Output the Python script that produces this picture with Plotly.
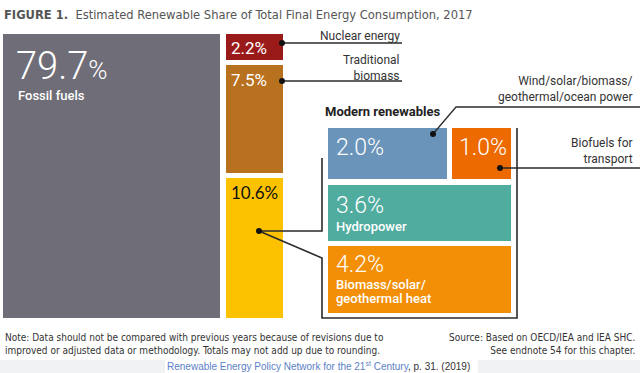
import plotly.graph_objects as go

# ---- data ----
categories = ["Fossil fuels", "Nuclear energy", "Traditional biomass", "Modern renewables",
              "Wind/solar/biomass/geothermal/ocean power", "Biofuels for transport",
              "Hydropower", "Biomass/solar/geothermal heat"]
shares = [79.7, 2.2, 7.5, 10.6, 2.0, 1.0, 3.6, 4.2]
colors = ["#6f6d77", "#9a1a1a", "#b8711f", "#fcc200", "#6a94b9", "#ec6a00", "#50ac9f", "#f28f07"]

# ---- layout geometry (pixel canvas) ----
bx0 = [3, 226, 226, 226, 328, 452, 328, 328]
bx1 = [220, 283, 283, 283, 447, 511, 511, 511]
by0 = [34, 34, 65, 178, 128, 128, 185, 246]
by1 = [318, 60, 173, 318, 179, 179, 241, 313]

fig = go.Figure()
fig.add_trace(go.Bar(
    x=[(a + b) / 2 for a, b in zip(bx0, bx1)],
    width=[b - a for a, b in zip(bx0, bx1)],
    base=by0,
    y=[b - a for a, b in zip(by0, by1)],
    marker=dict(color=colors, line=dict(width=0)),
    hovertext=categories, hoverinfo="text", showlegend=False,
))

LINE = "#2b2b2b"
def poly(xs, ys, w=1.3):
    fig.add_trace(go.Scatter(x=xs, y=ys, mode="lines", line=dict(color=LINE, width=w),
                             hoverinfo="skip", showlegend=False))

# leader lines
poly([282, 402], [43, 43])
poly([282, 402], [81, 81])
poly([433, 456, 640], [134, 107, 107])
poly([500, 640], [168, 168])
# callout frame
poly([322, 322, 259, 322, 322, 517, 517], [158, 231, 231, 258, 318, 318, 128], w=1.6)
# dots
fig.add_trace(go.Scatter(x=[282, 282, 433, 500, 259], y=[43, 81, 134, 168, 231], mode="markers",
                         marker=dict(color="#111", size=6), hoverinfo="skip", showlegend=False))

FONT = "Roboto"
NARROW = "DejaVu Sans Condensed, Roboto"
def pct(v):
    return f"{v:.1f}%"

ann = []
def txt(x, y, s, size, color="white", xanchor="left", family=FONT, weight=None, yanchor="middle"):
    f = dict(size=size, color=color, family=family)
    if weight:
        f["weight"] = weight
    ann.append(dict(x=x, y=y, xref="x", yref="y", text=s, showarrow=False, xanchor=xanchor,
                    yanchor=yanchor, font=f, align="left" if xanchor == "left" else "right"))

# title
txt(2, 14, "<b>FIGURE 1.</b>  Estimated Renewable Share of Total Final Energy Consumption, 2017",
    12.8, color="#555555", family=NARROW)

# box labels
v = f"{shares[0]:.1f}"
txt(14, 66, f"{v}<span style='font-size:26px'>%</span>", 38, weight=300)
txt(16, 95, categories[0], 13, weight=500)
txt(229, 48, pct(shares[1]), 17, weight=400)
txt(229, 80, pct(shares[2]), 17, weight=400)
txt(229, 192, pct(shares[3]), 17, color="#111111", family="Lato")
txt(334, 147, pct(shares[4]), 23, weight=300)
txt(457, 147, pct(shares[5]), 23, weight=300)
txt(334, 205, pct(shares[6]), 23, weight=300)
txt(334, 226, categories[6], 13, weight=500)
txt(334, 264, pct(shares[7]), 23, weight=300)
txt(334, 284, "Biomass/solar/", 13, weight=500)
txt(334, 298, "geothermal heat", 13, weight=500)

# outside labels
txt(402, 36, categories[1], 12, color="#333333", xanchor="right")
txt(402, 68, "Traditional<br>biomass", 12, color="#333333", xanchor="right")
txt(323, 111, "<b>Modern renewables</b>", 13, color="#222222")
txt(635, 89, "Wind/solar/biomass/<br>geothermal/ocean power", 12, color="#333333", xanchor="right")
txt(635, 151, "Biofuels for<br>transport", 12, color="#333333", xanchor="right")

# notes
txt(3, 344, "Note: Data should not be compared with previous years because of revisions due to<br>"
    "improved or adjusted data or methodology. Totals may not add up due to rounding.",
    10, color="#333333", family=NARROW)
txt(637, 344, "Source: Based on OECD/IEA and IEA SHC.<br>See endnote 54 for this chapter.",
    10, color="#333333", family=NARROW, xanchor="right")
txt(318, 366, "<span style='color:#5b7fc7'>Renewable Energy Policy Network for the 21<sup>st</sup> Century</span>, p. 31. (2019)",
    10, color="#333333", family="Liberation Sans", xanchor="center")

shapes = [
    dict(type="rect", xref="x", yref="y", x0=0, x1=640, y0=360, y1=373, fillcolor="#f1f2f4",
         line=dict(width=0), layer="below"),
    dict(type="rect", xref="x", yref="y", x0=165, x1=478, y0=358, y1=373, fillcolor="white",
         line=dict(width=0), layer="below"),
]

fig.update_layout(
    width=640, height=373, margin=dict(l=0, r=0, t=0, b=0),
    paper_bgcolor="white", plot_bgcolor="rgba(0,0,0,0)",
    barmode="overlay", bargap=0,
    xaxis=dict(range=[0, 640], visible=False, fixedrange=True),
    yaxis=dict(range=[373, 0], visible=False, fixedrange=True),
    annotations=ann, shapes=shapes,
)
fig.write_html("out.html", config={"displayModeBar": False},
               post_script="document.body.style.margin='0';document.body.style.overflow='hidden';")
